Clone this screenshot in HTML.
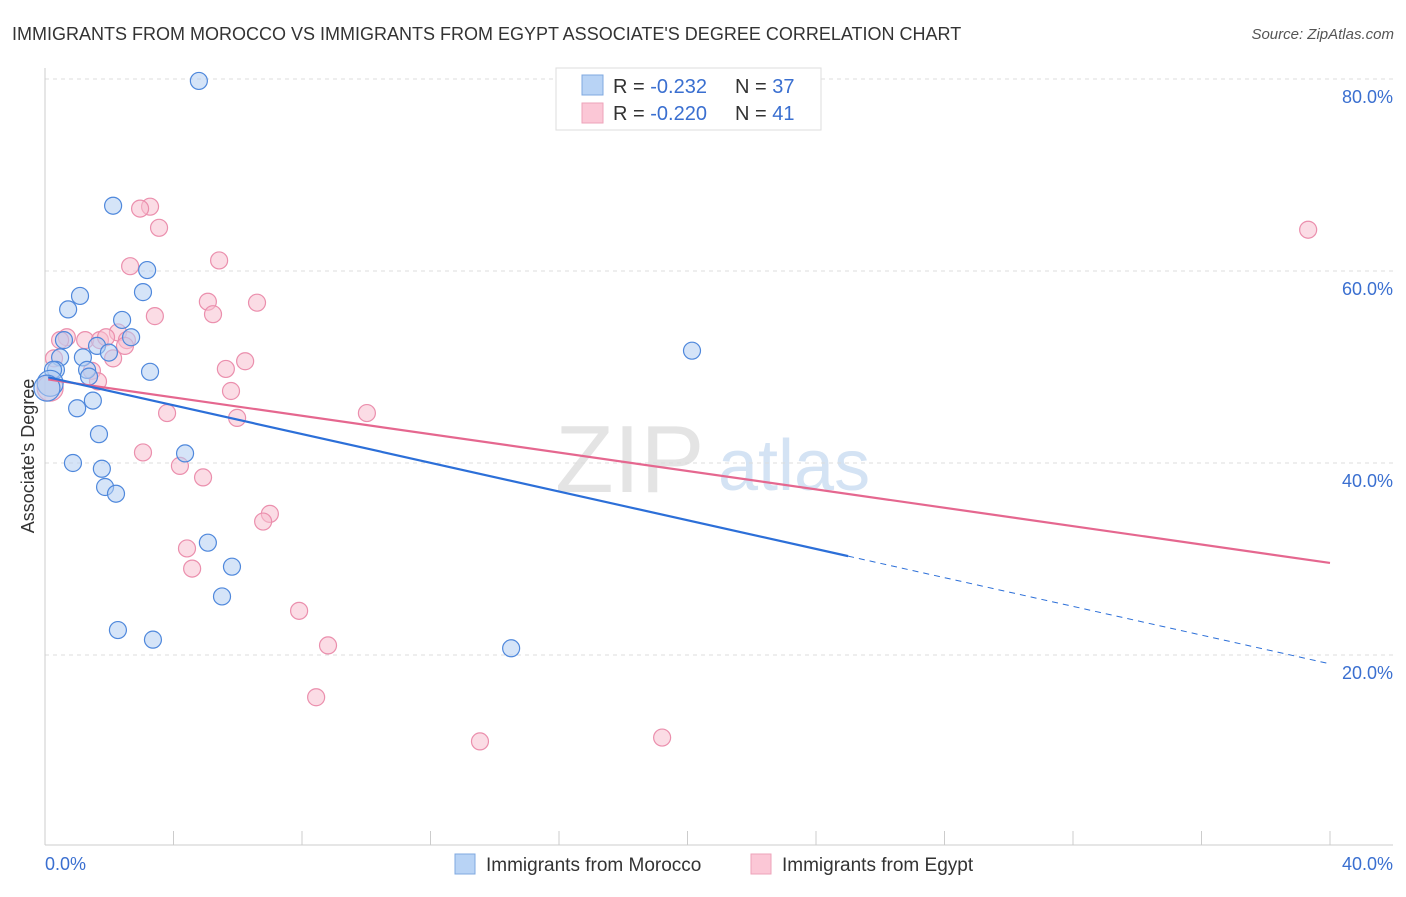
<!DOCTYPE html>
<html><head><meta charset="utf-8"><style>
body{margin:0;background:#fff;font-family:"Liberation Sans",sans-serif}
svg text{font-family:"Liberation Sans",sans-serif}
</style></head><body>
<svg id="c" width="1406" height="892">
<text x="12" y="40" font-size="18" fill="#333">IMMIGRANTS FROM MOROCCO VS IMMIGRANTS FROM EGYPT ASSOCIATE'S DEGREE CORRELATION CHART</text>
<text x="1394" y="39" font-size="15" fill="#555" font-style="italic" text-anchor="end">Source: ZipAtlas.com</text>
<text transform="translate(34,456) rotate(-90)" font-size="18" fill="#333" text-anchor="middle">Associate's Degree</text>
<g><text x="555" y="492" font-size="96" fill="#e4e4e4" font-family="Liberation Serif">ZIP</text><text x="718" y="490" font-size="72" fill="#d4e3f4">atlas</text></g>
<g id="grid"></g><g id="pts"></g><g id="lines"></g>
<g>
<rect x="556" y="68" width="265" height="62" fill="#fff" stroke="#ddd"/>
<rect x="582" y="75" width="21" height="20" fill="#b8d3f5" stroke="#7fa8e0"/>
<rect x="582" y="103" width="21" height="20" fill="#fbc7d6" stroke="#eea3ba"/>
<text x="613" y="93" font-size="20" fill="#333">R = <tspan fill="#3a6fd0">-0.232</tspan><tspan x="735">N = </tspan><tspan fill="#3a6fd0">37</tspan></text>
<text x="613" y="120" font-size="20" fill="#333">R = <tspan fill="#3a6fd0">-0.220</tspan><tspan x="735">N = </tspan><tspan fill="#3a6fd0"> 41</tspan></text>
</g>
<g>
<rect x="455" y="854" width="20" height="20" fill="#b8d3f5" stroke="#7fa8e0"/>
<text x="486" y="871" font-size="19" fill="#333">Immigrants from Morocco</text>
<rect x="751" y="854" width="20" height="20" fill="#fbc7d6" stroke="#eea3ba"/>
<text x="782" y="871" font-size="19" fill="#333">Immigrants from Egypt</text>
</g>
</svg>
<script>
const yTicks=[20,40,60,80];
const yTickLabels=["20.0%","40.0%","60.0%","80.0%"];
const moroccoX=[4.79,2.12,3.18,3.05,1.09,0.72,2.40,2.68,0.59,1.62,1.99,1.18,0.47,0.34,1.31,3.27,1.37,0.25,1.49,1.00,1.68,4.36,0.87,1.77,1.87,2.21,5.07,5.82,5.51,2.27,3.36,14.51,20.14,0.16,0.06];
const moroccoY=[79.8,66.8,60.1,57.8,57.4,56.0,54.9,53.1,52.8,52.2,51.5,51.0,51.0,49.7,49.7,49.5,49.0,49.7,46.5,45.7,43.0,41.0,40.0,39.4,37.5,36.8,31.7,29.2,26.1,22.6,21.6,20.7,51.7,48.3,47.8];
const egyptX=[3.27,2.96,3.55,5.42,2.65,5.07,6.60,5.23,3.42,0.68,0.47,1.25,1.71,2.27,1.90,2.55,2.49,2.12,6.23,5.63,1.46,1.65,5.79,5.98,3.80,10.02,3.05,4.20,4.92,7.00,6.79,4.42,4.58,7.91,8.81,8.44,13.54,19.21,39.32,0.16,0.28];
const egyptY=[66.7,66.5,64.5,61.1,60.5,56.8,56.7,55.5,55.3,53.1,52.8,52.8,52.8,53.6,53.1,52.8,52.2,50.9,50.6,49.8,49.6,48.5,47.5,44.7,45.2,45.2,41.1,39.7,38.5,34.7,33.9,31.1,29.0,24.6,21.0,15.6,11.0,11.4,64.3,47.8,50.9];
const moroccoTrend=[49.0,-0.748];
const egyptTrend=[48.75,-0.479];
const NS="http://www.w3.org/2000/svg";
const X=v=>45+v*32.125, Y=v=>847-v*9.6;
function mk(parent,tag,attrs){const e=document.createElementNS(NS,tag);for(const k in attrs)e.setAttribute(k,attrs[k]);document.getElementById(parent).appendChild(e);return e;}
yTicks.forEach((t,i)=>{
 const l=mk('grid','line',{x1:45,x2:1393,y1:Y(t),y2:Y(t),stroke:'#ddd','stroke-dasharray':'4,4'});
 
 
 const tx=mk('grid','text',{x:1393,y:Y(t)+24,'font-size':18,fill:'#3a6fd0','text-anchor':'end'});
 tx.textContent=yTickLabels[i];
 
 
});
let ax=mk('grid','line',{x1:45,x2:45,y1:68,y2:845,stroke:'#ccc'});


let bx=mk('grid','line',{x1:45,x2:1393,y1:845,y2:845,stroke:'#ccc'});


for(let i=0;i<=10;i++){const t=mk('grid','line',{x1:X(i*4),x2:X(i*4),y1:831,y2:845,stroke:'#ccc'});
 
 }
[[0,'0.0%','start',45],[40,'40.0%','end',1393]].forEach(a=>{const t=mk('grid','text',{x:a[3],y:870,'font-size':18,fill:'#3a6fd0','text-anchor':a[2]});t.textContent=a[1];
 
 });
function pts(xs,ys,fill,stroke,name){xs.forEach((x,i)=>{const big=x<0.2;
 const c=mk('pts','circle',{cx:X(x),cy:Y(ys[i]),r:big?13:8.5,fill:fill,'fill-opacity':0.55,stroke:stroke,'stroke-width':1.2});
 
 });}
pts(egyptX,egyptY,'#f8bfd0','#eb8fad','egypt-point');
pts(moroccoX,moroccoY,'#b3cef2','#4f88dc','morocco-point');
function trend(t,col,x1,x2,dash,name){const l=mk('lines','line',{x1:X(x1),y1:Y(t[0]+t[1]*x1),x2:X(x2),y2:Y(t[0]+t[1]*x2),stroke:col,'stroke-width':dash?1:2.2});
 if(dash)l.setAttribute('stroke-dasharray','6,5');
 
 }
trend(egyptTrend,'#e5678f',0.1,40,false,'egypt-trend-line');
trend(moroccoTrend,'#2c6fd8',0.1,25,false,'morocco-trend-line');
trend(moroccoTrend,'#2c6fd8',25,40,true,'morocco-trend-extension');
</script>
</body></html>
